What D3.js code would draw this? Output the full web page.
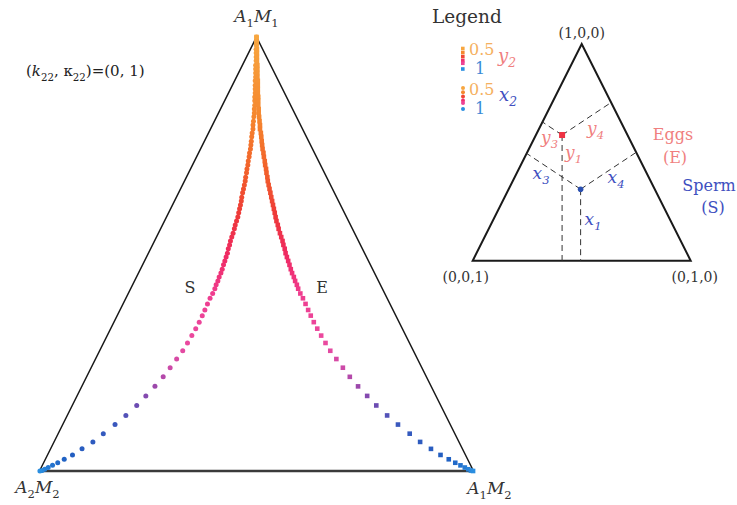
<!DOCTYPE html>
<html>
<head>
<meta charset="utf-8">
<script src="https://cdn.jsdelivr.net/npm/d3@7"></script>
<style>
  body { margin: 0; background: #fff; }
  svg { display: block; }
</style>
</head>
<body>
<div id="chart"></div>
<script>
// ---- data ----
// points of the two curves in the ternary plane: [horizontal, height, parameter]
// S curve (sperm, x2) drawn as circles
const curveS = [
  [0.500,1.000,0.500],[0.500,0.991,0.505],[0.500,0.982,0.510],[0.499,0.972,0.515],[0.499,0.963,0.520],
  [0.499,0.954,0.525],[0.499,0.945,0.530],[0.498,0.935,0.535],[0.498,0.926,0.540],[0.498,0.917,0.545],
  [0.498,0.908,0.550],[0.497,0.899,0.555],[0.497,0.889,0.560],[0.497,0.880,0.565],[0.497,0.871,0.570],
  [0.496,0.862,0.575],[0.496,0.853,0.580],[0.496,0.843,0.585],[0.495,0.834,0.590],[0.495,0.825,0.595],
  [0.494,0.816,0.600],[0.493,0.806,0.605],[0.492,0.797,0.609],[0.492,0.788,0.614],[0.490,0.779,0.619],
  [0.489,0.770,0.623],[0.488,0.760,0.628],[0.487,0.751,0.633],[0.486,0.742,0.637],[0.484,0.733,0.642],
  [0.483,0.724,0.647],[0.481,0.714,0.651],[0.480,0.705,0.656],[0.478,0.696,0.661],[0.477,0.687,0.665],
  [0.475,0.677,0.670],[0.474,0.668,0.675],[0.472,0.659,0.680],[0.470,0.650,0.685],[0.468,0.641,0.690],
  [0.466,0.631,0.695],[0.465,0.622,0.700],[0.463,0.613,0.706],[0.461,0.604,0.712],[0.459,0.595,0.718],
  [0.457,0.585,0.724],[0.454,0.576,0.730],[0.451,0.567,0.736],[0.449,0.558,0.742],[0.446,0.548,0.748],
  [0.443,0.539,0.754],[0.440,0.530,0.760],[0.438,0.521,0.766],[0.435,0.512,0.772],[0.433,0.502,0.778],
  [0.430,0.493,0.784],[0.427,0.484,0.790],[0.424,0.475,0.796],[0.421,0.465,0.802],[0.418,0.456,0.808],
  [0.414,0.447,0.814],[0.411,0.438,0.820],[0.407,0.429,0.826],[0.404,0.420,0.832],
  [0.399,0.409,0.840],[0.393,0.398,0.846],[0.387,0.385,0.852],[0.381,0.371,0.858],[0.375,0.358,0.864],
  [0.368,0.343,0.870],[0.360,0.328,0.876],[0.351,0.312,0.882],[0.341,0.295,0.888],[0.330,0.277,0.894],
  [0.316,0.258,0.900],[0.301,0.238,0.906],[0.285,0.217,0.912],[0.266,0.195,0.918],[0.245,0.173,0.924],
  [0.224,0.151,0.930],[0.199,0.128,0.936],[0.174,0.107,0.942],[0.147,0.086,0.948],[0.123,0.067,0.954],
  [0.098,0.051,0.960],[0.076,0.037,0.966],[0.057,0.027,0.972],[0.042,0.019,0.977],[0.030,0.013,0.982],
  [0.020,0.008,0.987],[0.012,0.004,0.992],[0.006,0.001,0.996],[0.001,0.000,1.000]
];
// E curve (eggs, y2) drawn as squares
const curveE = [
  [0.500,1.000,0.500],[0.500,0.991,0.505],[0.500,0.982,0.510],[0.501,0.972,0.515],[0.501,0.963,0.520],
  [0.501,0.954,0.525],[0.501,0.945,0.530],[0.502,0.935,0.535],[0.502,0.926,0.540],[0.502,0.917,0.545],
  [0.502,0.908,0.550],[0.503,0.899,0.555],[0.503,0.889,0.560],[0.503,0.880,0.565],[0.503,0.871,0.570],
  [0.504,0.862,0.575],[0.504,0.853,0.580],[0.504,0.843,0.585],[0.505,0.834,0.590],[0.505,0.825,0.595],
  [0.506,0.816,0.600],[0.507,0.806,0.605],[0.508,0.797,0.609],[0.508,0.788,0.614],[0.510,0.779,0.619],
  [0.511,0.770,0.623],[0.512,0.760,0.628],[0.513,0.751,0.633],[0.514,0.742,0.637],[0.516,0.733,0.642],
  [0.517,0.724,0.647],[0.519,0.714,0.651],[0.520,0.705,0.656],[0.522,0.696,0.661],[0.523,0.687,0.665],
  [0.525,0.677,0.670],[0.526,0.668,0.675],[0.528,0.659,0.680],[0.530,0.650,0.685],[0.532,0.641,0.690],
  [0.534,0.631,0.695],[0.536,0.622,0.700],[0.538,0.613,0.706],[0.540,0.604,0.712],[0.542,0.595,0.718],
  [0.544,0.585,0.724],[0.546,0.576,0.730],[0.549,0.567,0.736],[0.551,0.558,0.742],[0.554,0.548,0.748],
  [0.557,0.539,0.754],[0.560,0.530,0.760],[0.562,0.521,0.766],[0.565,0.512,0.772],[0.567,0.502,0.778],
  [0.570,0.493,0.784],[0.573,0.484,0.790],[0.576,0.475,0.796],[0.579,0.465,0.802],[0.582,0.456,0.808],
  [0.586,0.447,0.814],[0.589,0.438,0.820],[0.593,0.429,0.826],[0.596,0.420,0.832],
  [0.601,0.409,0.840],[0.607,0.398,0.846],[0.613,0.385,0.852],[0.619,0.371,0.858],[0.625,0.358,0.864],
  [0.632,0.343,0.870],[0.640,0.328,0.876],[0.649,0.312,0.882],[0.659,0.295,0.888],[0.670,0.277,0.894],
  [0.684,0.258,0.900],[0.699,0.238,0.906],[0.715,0.217,0.912],[0.734,0.195,0.918],[0.755,0.173,0.924],
  [0.776,0.151,0.930],[0.801,0.128,0.936],[0.826,0.107,0.942],[0.853,0.086,0.948],[0.877,0.067,0.954],
  [0.902,0.051,0.960],[0.924,0.037,0.966],[0.943,0.027,0.972],[0.958,0.019,0.977],[0.970,0.013,0.982],
  [0.980,0.008,0.987],[0.988,0.004,0.992],[0.994,0.001,0.996],[0.999,0.000,1.000]
];

// colour of the parameter (0.5 .. 1)
const colorStops = [0.5, 0.6, 0.66, 0.72, 0.78, 0.84, 0.89, 0.906, 0.918, 0.93, 0.942, 0.97, 1];
const colorRange = ["#f7a640", "#f5872f", "#f2622b", "#ee3a38", "#ef2a62", "#ef3c8e", "#ea4aa0",
                    "#cc4aa8", "#9c48ab", "#6c4cb2", "#3a58bd", "#1f5fc2", "#2a8ee0"];

// legend
const legendKeys = [0.5, 0.6, 0.7, 0.8, 0.86, 1];
const legendTicks = ["0.5", "1"];

// inset example points (ternary: top, right, left)
const eggPoint = [0.58, 0.12, 0.30];
const spermPoint = [0.33, 0.33, 0.34];
const insetCorners = ["(1,0,0)", "(0,1,0)", "(0,0,1)"];

// ---- drawing ----
const W = 737, H = 505;
const svg = d3.select("#chart").append("svg")
    .attr("width", W).attr("height", H);

const serif = "'DejaVu Serif', serif";
const color = d3.scaleLinear().domain(colorStops).range(colorRange);

// main triangle scales
const x = d3.scaleLinear().domain([0, 1]).range([39.5, 473.5]);
const y = d3.scaleLinear().domain([0, 1]).range([471, 37]);

// text with subscripts: parts = [[text, sub?, italic?], ...]
function richText(g, tx, ty, parts, size, fill, anchor) {
    const t = g.append("text")
        .attr("x", tx).attr("y", ty)
        .attr("font-family", serif)
        .attr("font-size", size)
        .attr("fill", fill)
        .attr("text-anchor", anchor || "start");
    let down = false;
    parts.forEach(p => {
        const s = t.append("tspan").text(p[0]);
        if (p[2]) s.attr("font-style", "italic");
        if (p[1] && !down) { s.attr("dy", size * 0.3).attr("font-size", size * 0.68); down = true; }
        else if (p[1]) { s.attr("font-size", size * 0.68); }
        else if (down) { s.attr("dy", -size * 0.3); down = false; }
    });
    return t;
}

const main = svg.append("g");

// triangle sides
const corners = [[0.5, 1], [1, 0], [0, 0]];
main.append("path")
    .attr("d", d3.line().x(d => x(d[0])).y(d => y(d[1]))([corners[2], corners[0], corners[1]]))
    .attr("fill", "none").attr("stroke", "#1a1a1a").attr("stroke-width", 1.5);
main.append("line")
    .attr("x1", x(0)).attr("x2", x(1)).attr("y1", y(0)).attr("y2", y(0))
    .attr("stroke", "#3a3a3a").attr("stroke-width", 2.4);

// curves
main.append("g").selectAll("circle")
    .data(curveS).enter().append("circle")
    .attr("cx", d => x(d[0])).attr("cy", d => y(d[1]))
    .attr("r", 2.5)
    .attr("fill", d => color(d[2]));

main.append("g").selectAll("rect")
    .data(curveE).enter().append("rect")
    .attr("x", d => x(d[0]) - 2.3).attr("y", d => y(d[1]) - 2.3)
    .attr("width", 4.6).attr("height", 4.6)
    .attr("fill", d => color(d[2]));

// labels of main triangle
richText(main, x(0.5), 22, [["A", 0, 1], ["1", 1, 0], ["M", 0, 1], ["1", 1, 0]], 17, "#333", "middle");
richText(main, x(0) - 2, 493, [["A", 0, 1], ["2", 1, 0], ["M", 0, 1], ["2", 1, 0]], 17, "#333", "middle");
richText(main, x(1) + 16, 494, [["A", 0, 1], ["1", 1, 0], ["M", 0, 1], ["2", 1, 0]], 17, "#333", "middle");
richText(main, 26, 76, [["(", 0, 0], ["k", 0, 1], ["22", 1, 0], [", κ", 0, 0], ["22", 1, 0], [")=(0, 1)", 0, 0]], 15, "#222");
main.append("text").attr("x", 190).attr("y", 293).attr("text-anchor", "middle")
    .attr("font-family", serif).attr("font-size", 16).attr("fill", "#333").text("S");
main.append("text").attr("x", 322).attr("y", 293).attr("text-anchor", "middle")
    .attr("font-family", serif).attr("font-size", 16).attr("fill", "#333").text("E");

// ---- legend ----
const leg = svg.append("g");
leg.append("text").attr("x", 432).attr("y", 23)
    .attr("font-family", serif).attr("font-size", 18.5).attr("fill", "#333").text("Legend");

const legY1 = d3.scaleLinear().domain([0.5, 1]).range([48.5, 69]);
const legY2 = d3.scaleLinear().domain([0.5, 1]).range([88, 109]);

leg.append("g").selectAll("rect").data(legendKeys).enter().append("rect")
    .attr("x", 461).attr("y", d => legY1(d) - 1.8)
    .attr("width", 3.6).attr("height", 3.6)
    .attr("fill", d => color(d));
leg.append("g").selectAll("circle").data(legendKeys).enter().append("circle")
    .attr("cx", 463).attr("cy", d => legY2(d))
    .attr("r", 2)
    .attr("fill", d => color(d));

[legY1, legY2].forEach(s => {
    leg.append("text").attr("x", 469).attr("y", s(0.5) + 6.5)
        .attr("font-family", serif).attr("font-size", 16).attr("fill", "#f5b060").text(legendTicks[0]);
    leg.append("text").attr("x", 475).attr("y", s(1) + 5)
        .attr("font-family", serif).attr("font-size", 16).attr("fill", "#3a8ad6").text(legendTicks[1]);
});
richText(leg, 498, 62, [["y", 0, 1], ["2", 1, 1]], 18, "#f07f7f");
richText(leg, 499, 101, [["x", 0, 1], ["2", 1, 1]], 18, "#4050c0");

// ---- inset ternary sketch ----
const ins = svg.append("g");
const xi = d3.scaleLinear().domain([0, 1]).range([472.7, 690.7]);
const yi = d3.scaleLinear().domain([0, 1]).range([260.7, 44]);
const tern = t => [xi(t[1] + t[0] / 2), yi(t[0])];

ins.append("path")
    .attr("d", d3.line()([tern([1, 0, 0]), tern([0, 1, 0]), tern([0, 0, 1])]) + "Z")
    .attr("fill", "none").attr("stroke", "#1a1a1a").attr("stroke-width", 2);

// dashed perpendiculars from a point to the three sides
function feet(t) {
    const [a, b, c] = t;
    return [[0, b + a / 2, c + a / 2], [a + c / 2, b + c / 2, 0], [a + b / 2, 0, c + b / 2]];
}
[eggPoint, spermPoint].forEach(p => {
    feet(p).forEach(f => {
        const p0 = tern(p), p1 = tern(f);
        ins.append("line")
            .attr("x1", p0[0]).attr("y1", p0[1]).attr("x2", p1[0]).attr("y2", p1[1])
            .attr("stroke", "#333").attr("stroke-width", 1)
            .attr("stroke-dasharray", "6,4");
    });
});
const ep = tern(eggPoint), sp = tern(spermPoint);
ins.append("rect").attr("x", ep[0] - 3).attr("y", ep[1] - 3).attr("width", 6).attr("height", 6)
    .attr("fill", "#ee3344");
ins.append("circle").attr("cx", sp[0]).attr("cy", sp[1]).attr("r", 2.8).attr("fill", "#2a4fb0");

const eggCol = "#f07f7f", spCol = "#4050c0";
richText(ins, ep[0] - 4, ep[1] + 8, [["y", 0, 1], ["3", 1, 1]], 17, eggCol, "end");
richText(ins, ep[0] + 25, ep[1] - 1, [["y", 0, 1], ["4", 1, 1]], 17, eggCol);
richText(ins, ep[0] + 3, ep[1] + 23, [["y", 0, 1], ["1", 1, 1]], 17, eggCol);
richText(ins, sp[0] - 48, sp[1] - 10, [["x", 0, 1], ["3", 1, 1]], 17, spCol);
richText(ins, sp[0] + 27, sp[1] - 6, [["x", 0, 1], ["4", 1, 1]], 17, spCol);
richText(ins, sp[0] + 4, sp[1] + 36, [["x", 0, 1], ["1", 1, 1]], 17, spCol);

ins.append("text").attr("x", 673).attr("y", 140).attr("text-anchor", "middle")
    .attr("font-family", serif).attr("font-size", 16).attr("fill", eggCol).text("Eggs");
ins.append("text").attr("x", 675).attr("y", 163).attr("text-anchor", "middle")
    .attr("font-family", serif).attr("font-size", 16).attr("fill", eggCol).text("(E)");
ins.append("text").attr("x", 709).attr("y", 191).attr("text-anchor", "middle")
    .attr("font-family", serif).attr("font-size", 16).attr("fill", spCol).text("Sperm");
ins.append("text").attr("x", 713).attr("y", 213).attr("text-anchor", "middle")
    .attr("font-family", serif).attr("font-size", 16).attr("fill", spCol).text("(S)");

// corner labels
const cornerPos = [[xi(0.5), 38], [xi(1) + 4, 282], [xi(0) - 7, 282]];
insetCorners.forEach((lab, i) => {
    ins.append("text").attr("x", cornerPos[i][0]).attr("y", cornerPos[i][1])
        .attr("text-anchor", "middle")
        .attr("font-family", serif).attr("font-size", 14).attr("fill", "#333").text(lab);
});
</script>
</body>
</html>
